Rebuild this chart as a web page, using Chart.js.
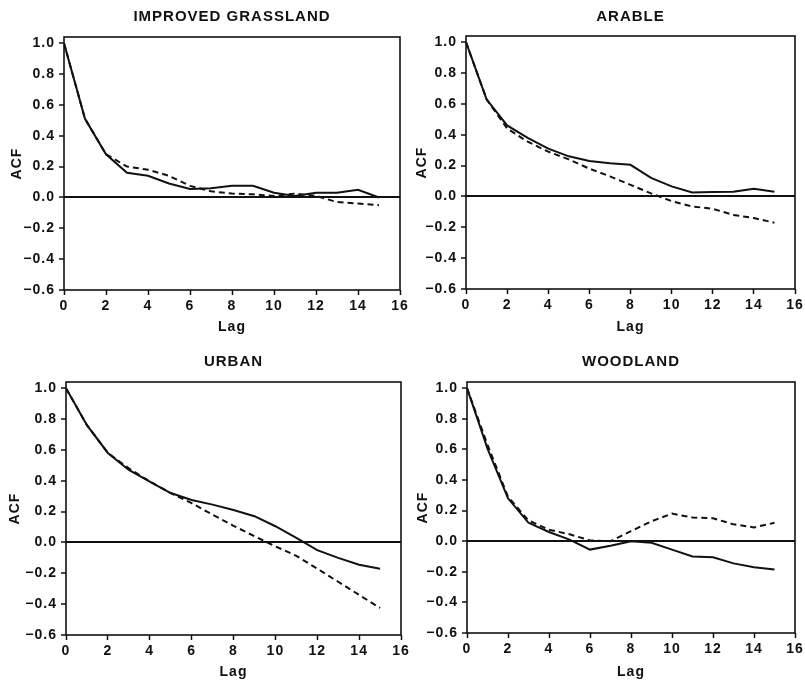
<!DOCTYPE html>
<html>
<head>
<meta charset="utf-8">
<script src="https://cdn.jsdelivr.net/npm/chart.js@4.4.1/dist/chart.umd.min.js"></script>
<style>
  html, body { margin: 0; padding: 0; background: #fff; }
  body { width: 805px; height: 686px; position: relative; overflow: hidden; }
  canvas { position: absolute; }
</style>
</head>
<body>
<canvas id="c1" width="415" height="340" style="left:0;top:0"></canvas>
<canvas id="c2" width="403" height="340" style="left:402px;top:0"></canvas>
<canvas id="c3" width="415" height="346" style="left:0;top:340px"></canvas>
<canvas id="c4" width="403" height="346" style="left:402px;top:340px"></canvas>
<script>
// Lags and axis ticks
const lags = [0, 1, 2, 3, 4, 5, 6, 7, 8, 9, 10, 11, 12, 13, 14, 15];
const xTicks = [0, 2, 4, 6, 8, 10, 12, 14, 16];
const xTickLabels = ['0', '2', '4', '6', '8', '10', '12', '14', '16'];
const yTicks = [-0.6, -0.4, -0.2, 0, 0.2, 0.4, 0.6, 0.8, 1.0];
const yTickLabels = ['\u22120.6', '\u22120.4', '\u22120.2', '0.0', '0.2', '0.4', '0.6', '0.8', '1.0'];

// ACF values (solid and dashed curves)
const grassSolid  = [1.0, 0.51, 0.28, 0.16, 0.14, 0.09, 0.055, 0.06, 0.075, 0.075, 0.03, 0.01, 0.03, 0.03, 0.05, 0.0];
const grassDashed = [1.0, 0.51, 0.28, 0.20, 0.18, 0.14, 0.075, 0.04, 0.025, 0.02, 0.01, 0.025, 0.01, -0.03, -0.04, -0.05];
const arableSolid  = [1.0, 0.63, 0.46, 0.38, 0.31, 0.26, 0.23, 0.215, 0.205, 0.12, 0.065, 0.025, 0.028, 0.03, 0.05, 0.03];
const arableDashed = [1.0, 0.63, 0.44, 0.355, 0.29, 0.24, 0.18, 0.13, 0.075, 0.02, -0.03, -0.065, -0.08, -0.12, -0.14, -0.17];
const urbanSolid  = [1.0, 0.76, 0.58, 0.47, 0.395, 0.32, 0.275, 0.245, 0.21, 0.17, 0.105, 0.03, -0.05, -0.10, -0.145, -0.17];
const urbanDashed = [1.0, 0.76, 0.58, 0.48, 0.395, 0.32, 0.255, 0.18, 0.108, 0.04, -0.025, -0.087, -0.17, -0.255, -0.34, -0.425];
const woodSolid  = [1.0, 0.605, 0.28, 0.12, 0.06, 0.01, -0.055, -0.03, 0.0, -0.01, -0.055, -0.10, -0.105, -0.145, -0.17, -0.185];
const woodDashed = [1.0, 0.63, 0.29, 0.135, 0.075, 0.045, 0.005, 0.0, 0.065, 0.13, 0.18, 0.155, 0.15, 0.11, 0.09, 0.12];

const INK = '#111';
const FONT = 'Liberation Sans, Arial, sans-serif';

// letter spacing + box round the plot area
const framePlugin = {
    id: 'frame',
    beforeLayout(chart) { chart.ctx.letterSpacing = '1px'; },
    beforeDraw(chart) { chart.ctx.letterSpacing = '1px'; },
    afterDatasetsDraw(chart) {
        const { ctx, chartArea: a } = chart;
        ctx.save();
        ctx.strokeStyle = INK;
        ctx.lineWidth = 1.6;
        ctx.strokeRect(a.left, a.top, a.right - a.left, a.bottom - a.top);
        ctx.restore();
    }
};

function toPoints(values) {
    return lags.map((lag, i) => ({ x: lag, y: values[i] }));
}

function makeChart(id, title, solid, dashed, g) {
    const tickFont = { family: FONT, size: 14, weight: 'bold' };
    return new Chart(document.getElementById(id), {
        type: 'line',
        data: {
            datasets: [
                { data: toPoints(solid), borderColor: INK, borderWidth: 2, pointRadius: 0, tension: 0 },
                { data: toPoints(dashed), borderColor: INK, borderWidth: 2, borderDash: [6, 4], pointRadius: 0, tension: 0 }
            ]
        },
        options: {
            responsive: false,
            animation: false,
            events: [],
            layout: { padding: { left: 0, top: 0, right: g.padRight, bottom: 0 } },
            plugins: {
                legend: { display: false },
                tooltip: { enabled: false },
                title: {
                    display: true,
                    text: title,
                    fullSize: false,
                    color: INK,
                    font: { family: FONT, size: 15, weight: 'bold' },
                    padding: { top: g.titleTop, bottom: g.titleBottom }
                }
            },
            scales: {
                x: {
                    type: 'linear',
                    min: 0,
                    max: 16,
                    afterBuildTicks: s => { s.ticks = xTicks.map(v => ({ value: v })); },
                    afterFit: s => { s.height = g.xHeight; s.paddingLeft = 0; s.paddingRight = 0; },
                    ticks: { color: INK, font: tickFont, padding: 3, maxRotation: 0, autoSkip: false,
                             callback: (v, i) => xTickLabels[i] },
                    grid: { drawOnChartArea: false, tickLength: 5, tickColor: INK, tickWidth: 1.5 },
                    border: { display: false },
                    title: { display: true, text: 'Lag', color: INK, font: tickFont,
                             padding: { top: 0, bottom: g.lagPad } }
                },
                y: {
                    type: 'linear',
                    min: -0.6,
                    max: 1.04,
                    afterBuildTicks: s => { s.ticks = yTicks.map(v => ({ value: v })); },
                    afterFit: s => { s.width = g.yWidth; s.paddingTop = 0; s.paddingBottom = 0; },
                    ticks: { color: INK, font: tickFont, padding: 4, autoSkip: false,
                             callback: (v, i) => yTickLabels[i] },
                    grid: {
                        drawOnChartArea: true,
                        color: c => (c.tick && c.tick.value === 0 ? INK : 'rgba(0,0,0,0)'),
                        lineWidth: 2,
                        tickLength: 5,
                        tickColor: INK,
                        tickWidth: 1.5
                    },
                    border: { display: false },
                    title: { display: true, text: 'ACF', color: INK, font: tickFont,
                             padding: { top: g.acfPad, bottom: 0 } }
                }
            }
        },
        plugins: [framePlugin]
    });
}

makeChart('c1', 'IMPROVED GRASSLAND', grassSolid, grassDashed,
    { yWidth: 64, xHeight: 50, padRight: 15, titleTop: 8, titleBottom: 11, lagPad: 4.6, acfPad: 8.6 });
makeChart('c2', 'ARABLE', arableSolid, arableDashed,
    { yWidth: 64, xHeight: 51, padRight: 10, titleTop: 8, titleBottom: 10, lagPad: 4.6, acfPad: 11.6 });
makeChart('c3', 'URBAN', urbanSolid, urbanDashed,
    { yWidth: 66, xHeight: 51, padRight: 14, titleTop: 13, titleBottom: 11, lagPad: 5.6, acfPad: 6.6 });
makeChart('c4', 'WOODLAND', woodSolid, woodDashed,
    { yWidth: 65, xHeight: 53, padRight: 10, titleTop: 13, titleBottom: 11, lagPad: 5.6, acfPad: 12.6 });
</script>
</body>
</html>
